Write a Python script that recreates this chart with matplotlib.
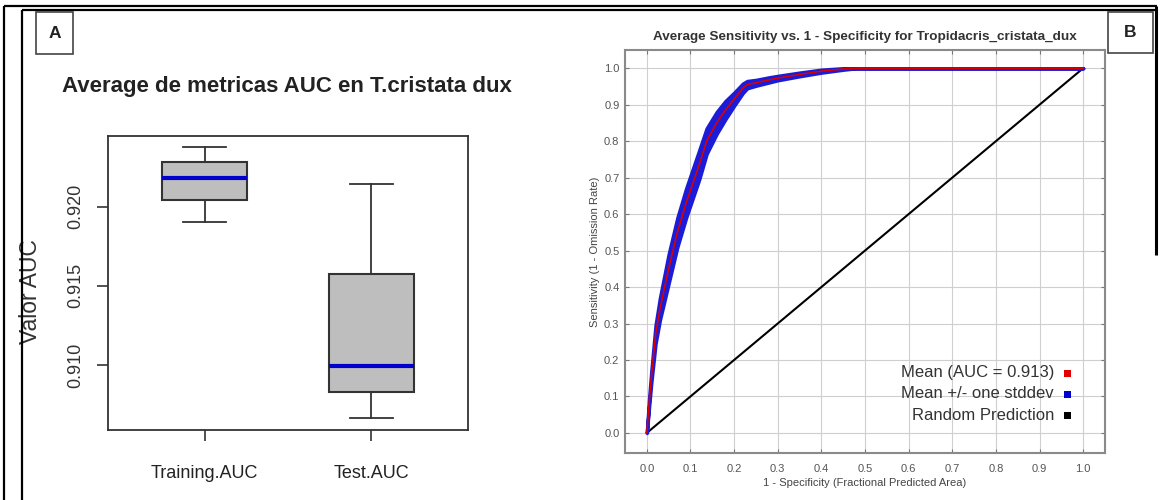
import numpy as np
import matplotlib
matplotlib.use("Agg")
import matplotlib.pyplot as plt
from matplotlib.lines import Line2D
from matplotlib.patches import Rectangle

W, H = 1160, 500

# panel A: five-number summaries
box_labels = ["Training.AUC", "Test.AUC"]
box_whislo = [0.91905, 0.90663]
box_q1 = [0.92042, 0.90831]
box_med = [0.92180, 0.90994]
box_q3 = [0.92281, 0.91575]
box_whishi = [0.92376, 0.92144]

# panel B: average ROC curve (mean and +/- one stddev)
fpr = [0.0, 0.005, 0.01, 0.02, 0.03, 0.04, 0.05, 0.06, 0.07, 0.08, 0.09, 0.10,
       0.11, 0.12, 0.137, 0.16, 0.18, 0.20, 0.22, 0.23, 0.25, 0.28, 0.30, 0.35,
       0.40, 0.45, 0.48, 0.60, 0.80, 1.0]
tpr_mean = [0.0, 0.08, 0.15, 0.27, 0.34, 0.395, 0.45, 0.50, 0.55, 0.59, 0.63, 0.665,
            0.70, 0.735, 0.80, 0.85, 0.885, 0.915, 0.945, 0.955, 0.96, 0.968, 0.973, 0.983,
            0.992, 0.998, 1.0, 1.0, 1.0, 1.0]
tpr_sd = [0.0, 0.01, 0.015, 0.025, 0.03, 0.035, 0.04, 0.04, 0.04, 0.04, 0.04, 0.04,
          0.04, 0.04, 0.035, 0.03, 0.025, 0.018, 0.013, 0.01, 0.008, 0.007, 0.006, 0.005,
          0.004, 0.002, 0.0, 0.0, 0.0, 0.0]
auc_mean = 0.913
roc_ticks = [0.0, 0.1, 0.2, 0.3, 0.4, 0.5, 0.6, 0.7, 0.8, 0.9, 1.0]

plt.rcParams["font.family"] = ["Liberation Sans", "DejaVu Sans"]


def fx(x):
    return x / W


def fy(y):
    return 1 - y / H


fig = plt.figure(figsize=(W / 100, H / 100), dpi=100)

# outer frame (double line on top/left)
def fline(x0, y0, x1, y1, lw=1.6):
    fig.add_artist(Line2D([fx(x0), fx(x1)], [fy(y0), fy(y1)], transform=fig.transFigure,
                          color="black", lw=lw, solid_capstyle="butt"))

fline(4, 6, 1157, 6)
fline(4, 6, 4, 500)
fline(22, 10, 1157, 10)
fline(22, 10, 22, 500)
fline(1156, 6, 1156, 255, lw=2.2)

# panel labels
for (x0, y0, x1, y1, lab) in [(36, 12, 73, 54, "A"), (1108, 12, 1153, 53, "B")]:
    fig.add_artist(Rectangle((fx(x0), fy(y1)), fx(x1 - x0), (y1 - y0) / H,
                             transform=fig.transFigure, fill=False, edgecolor="#444444", lw=1.2))
    fig.text(fx((x0 + x1) / 2), fy((y0 + y1) / 2), lab, ha="center", va="center",
             fontsize=12.5, fontweight="bold", color="#222222")

# ---- panel A: boxplot
axA = fig.add_axes([fx(108), fy(430), fx(468 - 108), (430 - 136) / H])
stats = []
for i in range(len(box_labels)):
    stats.append(dict(label=box_labels[i], whislo=box_whislo[i], q1=box_q1[i], med=box_med[i],
                      q3=box_q3[i], whishi=box_whishi[i], fliers=[]))
axA.bxp(stats, positions=[1, 2], widths=0.51, patch_artist=True, showfliers=False,
        boxprops=dict(facecolor="#bebebe", edgecolor="#333333", lw=1.5),
        medianprops=dict(color="#0000cc", lw=3, solid_capstyle="butt"),
        whiskerprops=dict(color="#333333", lw=1.3),
        capprops=dict(color="#333333", lw=1.3))
axA.set_xlim(0.42, 2.58)
axA.set_ylim(0.90589, 0.92447)
axA.set_yticks([0.910, 0.915, 0.920])
axA.set_yticklabels(["0.910", "0.915", "0.920"], rotation=90, va="center", fontsize=13,
                    color="#333333")
axA.set_xticks([1, 2])
axA.set_xticklabels(box_labels, fontsize=13, color="#222222")
axA.tick_params(axis="both", direction="out", length=8, width=1.2, color="#333333")
axA.tick_params(axis="y", pad=9)
axA.tick_params(axis="x", pad=17)
for s in axA.spines.values():
    s.set_color("#333333")
    s.set_linewidth(1.3)
axA.set_ylabel("Valor AUC", fontsize=16.5, color="#333333")
axA.yaxis.set_label_coords(-0.182, 0.47)

fig.text(fx(287), fy(87), "Average de metricas AUC en T.cristata dux", ha="center", va="center",
         fontsize=16, fontweight="bold", color="#222222")

# ---- panel B: ROC
axB = fig.add_axes([fx(625), fy(453), fx(1105 - 625), (453 - 50) / H])
fpr_a = np.array(fpr)
mean_a = np.array(tpr_mean)
sd_a = np.array(tpr_sd)
axB.plot([0, 1], [0, 1], color="black", lw=1.5, zorder=2, label="Random Prediction")
axB.fill_between(fpr_a, mean_a - sd_a, np.minimum(mean_a + sd_a, 1.0), color="#1c1cd8",
                 edgecolor="#1c1cd8", lw=2.5, zorder=3, label="Mean +/- one stddev")
axB.plot(fpr_a, mean_a, color="#d80000", lw=1.2, zorder=4, label="Mean (AUC = %.3f)" % auc_mean)
axB.set_xlim(-0.05, 1.05)
axB.set_ylim(-0.055, 1.05)
axB.set_xticks(roc_ticks)
axB.set_yticks(roc_ticks)
axB.set_xticklabels(["%.1f" % t for t in roc_ticks], fontsize=8, color="#555555")
axB.set_yticklabels(["%.1f" % t for t in roc_ticks], fontsize=8, color="#555555")
axB.tick_params(direction="in", length=3, top=True, right=True, color="#777777")
axB.tick_params(axis="x", pad=8)
axB.tick_params(axis="y", pad=4)
axB.grid(color="#cfcfcf", lw=0.8)
axB.set_axisbelow(True)
for s in axB.spines.values():
    s.set_color("#8a8a8a")
    s.set_linewidth(1.5)
axB.set_title("Average Sensitivity vs. 1 - Specificity for Tropidacris_cristata_dux",
              fontsize=9.7, fontweight="bold", color="#333333", pad=7)
axB.set_xlabel("1 - Specificity (Fractional Predicted Area)", fontsize=8,
               color="#444444", labelpad=3)
axB.set_ylabel("Sensitivity (1 - Omission Rate)", fontsize=8, color="#444444", labelpad=3)

# legend drawn as right-aligned texts with coloured squares
leg_items = [("Mean (AUC = %.3f)" % auc_mean, "#e00000"), ("Mean +/- one stddev", "#0000d0"),
             ("Random Prediction", "black")]
for (txt, col), ypx in zip(leg_items, [373, 394, 415]):
    fig.text(fx(1054), fy(ypx), txt, ha="right", va="center", fontsize=12, color="#333333")
    fig.add_artist(Rectangle((fx(1064), fy(ypx + 3.5)), fx(7), 7 / H, transform=fig.transFigure,
                             facecolor=col, edgecolor="none"))

fig.savefig("out.png", dpi=100)
